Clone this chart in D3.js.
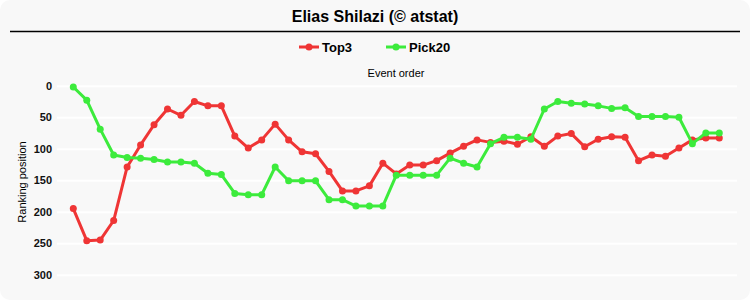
<!DOCTYPE html>
<HTML>
<HEAD>
<TITLE>Elias Shilazi ranking</TITLE>
<STYLE>
body { margin: 0; background: #ffffff; }
text { font-family: "Liberation Sans", Arial, sans-serif; }
</STYLE>
<SCRIPT type="text/javascript" src="https://d3js.org/d3.v7.min.js"></SCRIPT>
</HEAD>
<BODY>
<svg id="chart" width="750" height="300"></svg>
<SCRIPT type="text/javascript">
// ranking position per event
const top3 = [195, 246, 245, 214, 129, 94, 62, 37, 47, 25,
              32, 32, 80, 99, 86, 61, 86, 105, 108, 136,
              167, 167, 159, 123, 140, 126, 126, 119, 107, 96,
              86, 90, 88, 93, 81, 96, 80, 76, 97, 85,
              81, 82, 119, 110, 112, 99, 86, 83, 83];
const pick20 = [2, 23, 69, 110, 114, 115, 117, 121, 121, 123,
                139, 141, 171, 173, 173, 129, 151, 151, 151, 181,
                181, 191, 191, 191, 142, 142, 142, 142, 115, 123,
                129, 92, 82, 82, 85, 37, 25, 28, 29, 32,
                36, 35, 49, 49, 49, 50, 92, 75, 75];
const yTicks = [0, 50, 100, 150, 200, 250, 300];
const seriesNames = ["Top3", "Pick20"];
const seriesColors = ["#ef3535", "#3ceb3c"];

const chart = d3.select("#chart");
const CHART_W = parseInt(chart.attr("width"));

chart.append("rect")
     .attr("x", 0).attr("y", 0)
     .attr("width", 750).attr("height", 300)
     .attr("rx", 10)
     .style("fill", "#f8f8f8");

chart.append("text")
     .attr("x", CHART_W / 2).attr("y", 22)
     .attr("text-anchor", "middle")
     .style("font-size", "16px").style("font-weight", "bold")
     .text("Elias Shilazi (\u00a9 atstat)");

chart.append("line")
     .attr("x1", 10).attr("x2", 740)
     .attr("y1", 31.5).attr("y2", 31.5)
     .style("stroke", "#000").style("stroke-width", 1.5);

let xScale = d3.scaleLinear()
               .domain([0, top3.length - 1])
               .range([73.3, 719.3]);

let yScale = d3.scaleLinear()
               .domain([0, 300])
               .range([85.7, 274.7]);

// grid + labels
const yAxis = d3.axisLeft()
                .scale(yScale)
                .tickValues(yTicks)
                .tickSize(-680)
                .tickPadding(5);

const yG = chart.append("g")
                .attr("transform", "translate(57, 0)")
                .call(yAxis);
yG.select(".domain").remove();
yG.selectAll(".tick line").style("stroke", "#ffffff").style("stroke-width", 2);
yG.selectAll(".tick text")
  .style("font-size", "11px").style("font-weight", "bold")
  .style("font-family", "'Liberation Sans', Arial, sans-serif")
  .style("fill", "#111");

chart.append("text")
     .attr("transform", "translate(26, 182) rotate(-90)")
     .attr("text-anchor", "middle")
     .style("font-size", "11px")
     .text("Ranking position");

chart.append("text")
     .attr("x", 396).attr("y", 77)
     .attr("text-anchor", "middle")
     .style("font-size", "11px")
     .text("Event order");

const line = d3.line()
               .x((d, i) => xScale(i))
               .y((d) => yScale(d));

[top3, pick20].forEach(function(data, s) {
    const g = chart.append("g");
    g.append("path")
     .datum(data)
     .style("fill", "none")
     .style("stroke", seriesColors[s])
     .style("stroke-width", 3)
     .style("stroke-linejoin", "round")
     .attr("d", line);
    g.selectAll("circle")
     .data(data)
     .enter()
     .append("circle")
     .attr("cx", (d, i) => xScale(i))
     .attr("cy", (d) => yScale(d))
     .attr("r", 3.5)
     .style("fill", seriesColors[s]);
});

// legend
const legendX = [299, 386];
seriesNames.forEach(function(name, s) {
    const lg = chart.append("g")
                    .attr("transform", `translate(${legendX[s]}, 47)`);
    lg.append("line")
      .attr("x1", 0).attr("x2", 20)
      .style("stroke", seriesColors[s]).style("stroke-width", 3);
    lg.append("circle")
      .attr("cx", 10).attr("r", 3.5)
      .style("fill", seriesColors[s]);
    lg.append("text")
      .attr("x", 23).attr("y", 5)
      .style("font-size", "13px").style("font-weight", "bold")
      .text(name);
});
</SCRIPT>
</BODY>
</HTML>
